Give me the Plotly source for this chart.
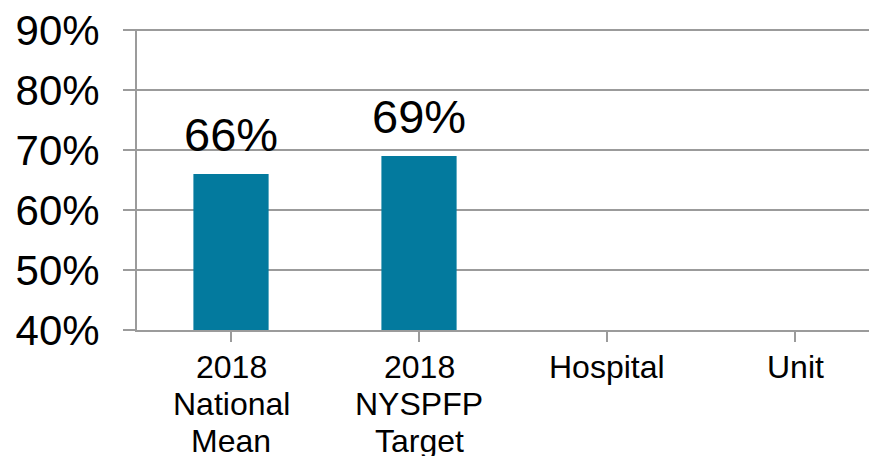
import plotly.graph_objects as go

categories = ["2018 National Mean", "2018 NYSPFP Target", "Hospital", "Unit"]
category_lines = [["2018", "National", "Mean"], ["2018", "NYSPFP", "Target"], ["Hospital"], ["Unit"]]
values = [66, 69, None, None]
y_ticks = [40, 50, 60, 70, 80, 90]

BAR = "#037a9e"
GRID = "#9b9b9b"
FONT = "Arial, Liberation Sans, sans-serif"

xs = list(range(len(categories)))
fig = go.Figure()
fig.add_trace(go.Bar(x=xs, y=values, marker=dict(color=BAR, line=dict(width=0)), width=0.4,
                     hoverinfo="skip"))

annotations = []
for x, v in zip(xs, values):
    if v is not None:
        annotations.append(dict(x=x, y=v, xref="x", yref="y", text=f"{v}%", showarrow=False,
                                yanchor="bottom", yshift=11,
                                font=dict(family=FONT, size=47, color="black")))
for x, lines in zip(xs, category_lines):
    for i, line in enumerate(lines):
        annotations.append(dict(x=x, y=0, xref="x", yref="paper", text=line, showarrow=False,
                                yanchor="middle", yshift=-37 - 37 * i,
                                font=dict(family=FONT, size=32, color="black")))

fig.update_layout(
    width=877, height=456,
    margin=dict(l=129, r=8, t=21, b=134, autoexpand=False),
    paper_bgcolor="white", plot_bgcolor="white",
    showlegend=False,
    bargap=0.6,
    annotations=annotations,
    xaxis=dict(range=[-0.5, 3.436], tickvals=xs, ticktext=["" for _ in xs],
               showticklabels=False, automargin=False,
               tickson="boundaries", ticks="outside", ticklen=10, tickwidth=2, tickcolor=GRID,
               showline=True, linecolor=GRID, linewidth=2, showgrid=False, zeroline=False,
               fixedrange=True),
    yaxis=dict(range=[40, 90.17], tickvals=y_ticks, ticktext=[f"{t}%" for t in y_ticks],
               ticks="outside", ticklen=12, tickwidth=2, tickcolor=GRID, automargin=False,
               ticklabelstandoff=15, ticklabeloverflow="allow",
               tickfont=dict(family=FONT, size=42, color="black"),
               showline=True, linecolor=GRID, linewidth=2,
               showgrid=True, gridcolor=GRID, gridwidth=2, zeroline=False, fixedrange=True),
)

fig.write_html("out.html", config={"displayModeBar": False})
